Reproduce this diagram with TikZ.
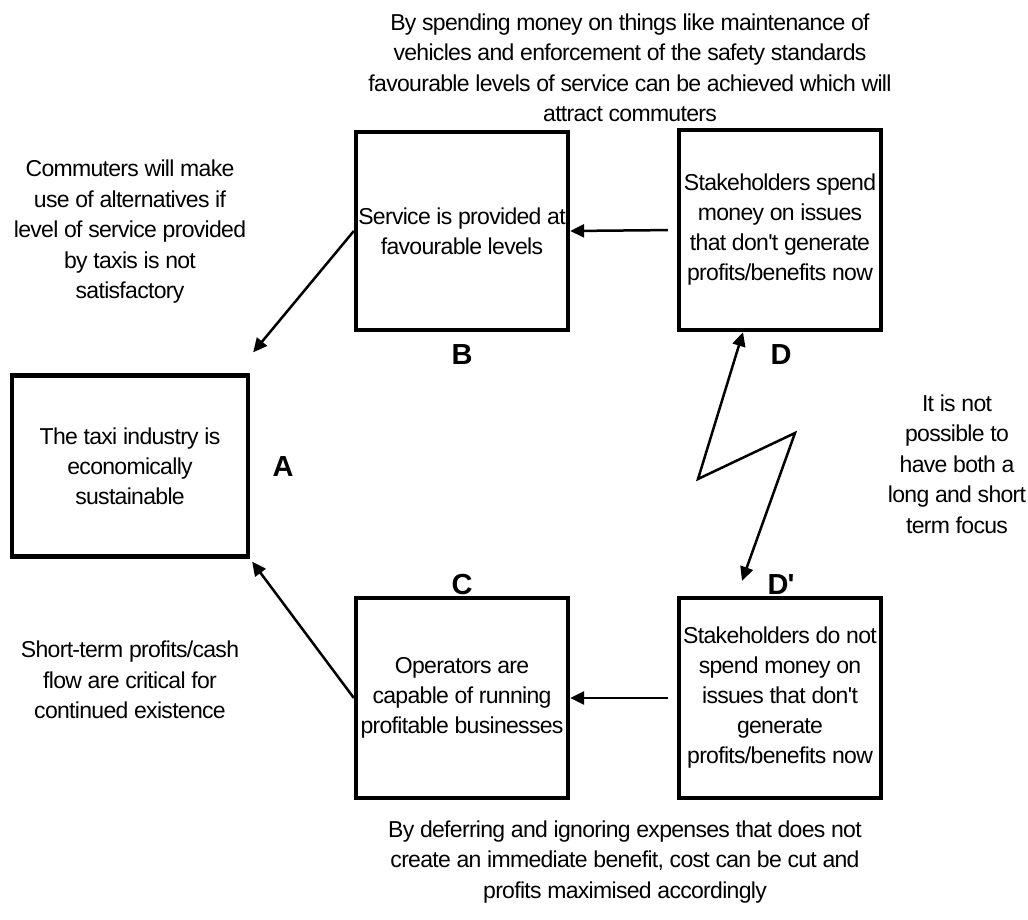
\documentclass[tikz,border=0pt]{standalone}
\usepackage{fontspec}
\setmainfont{Liberation Sans}[LetterSpace=-3, Ligatures=TeXOff]
\usetikzlibrary{arrows.meta,positioning,calc}

\tikzset{
    statebox/.style={draw, line width=4.3pt, inner sep=0pt, align=center,
        font=\fontsize{23}{30}\selectfont},
    notetext/.style={align=center, inner sep=0pt, font=\fontsize{23}{30.5}\selectfont},
    boxlabel/.style={inner sep=0pt, font=\fontsize{29}{30}\selectfont\bfseries},
    link/.style={line width=2.5pt, -{Triangle[length=14pt,width=13pt]}},
}

\begin{document}
\begin{tikzpicture}[x=1pt, y=-1pt]
    \useasboundingbox (0,0) rectangle (1028,920);
    % boxes
    \node[statebox, minimum width=236pt, minimum height=181pt] (A) at (130,466)
        {The taxi industry is\\economically\\sustainable};
    \node[statebox, minimum width=212pt, minimum height=198pt] (B) at (462,231)
        {Service is provided at\\favourable levels};
    \node[statebox, minimum width=202pt, minimum height=200pt] (D) at (780,230)
        {Stakeholders spend\\money on issues\\that don't generate\\profits/benefits now};
    \node[statebox, minimum width=212pt, minimum height=200pt] (C) at (462,698)
        {Operators are\\capable of running\\profitable businesses};
    \node[statebox, minimum width=202pt, minimum height=200pt] (Dp) at (780,698)
        {Stakeholders do not\\spend money on\\issues that don't\\generate\\profits/benefits now};
    % letters
    \node[boxlabel] (labA) at (283,467) {A};
    \node[boxlabel] (labB) at (462,355) {B};
    \node[boxlabel] (labC) at (462,585) {C};
    \node[boxlabel] (labD) at (781,355) {D};
    \node[boxlabel] (labDp) at (781,585) {D'};
    % notes
    \node[notetext] (noteB) at (630,68) {By spending money on things like maintenance of\\vehicles and enforcement of the safety standards\\favourable levels of service can be achieved which will\\attract commuters};
    \node[notetext] (noteA) at (130,232) {Commuters will make\\use of alternatives if\\level of service provided\\by taxis is not\\satisfactory};
    \node[notetext] (noteD) at (957,464) {It is not\\possible to\\have both a\\long and short\\term focus};
    \node[notetext] (noteC) at (130,680) {Short-term profits/cash\\flow are critical for\\continued existence};
    \node[notetext] (noteDp) at (625,862) {By deferring and ignoring expenses that does not\\create an immediate benefit, cost can be cut and\\profits maximised accordingly};
    % arrows
    \draw[link, shorten <=9pt] (D.west) -- (B.east);
    \draw[link, shorten <=9pt] (Dp.west) -- (C.east);
    \draw[link] (B.west) -- ([xshift=3pt, yshift=21pt]A.north east);
    \draw[link] (C.west) -- ([xshift=2pt, yshift=-3pt]A.south east);
    % conflict
    \coordinate (kinkL) at (698,479);
    \coordinate (kinkR) at (795,433);
    \draw[line width=2.5pt, {Triangle[length=14pt,width=13pt]}-{Triangle[length=14pt,width=13pt]}]
        ([xshift=-37pt]D.south) -- (kinkL) -- (kinkR) -- ([xshift=-38pt, yshift=15pt]Dp.north);
\end{tikzpicture}
\end{document}
